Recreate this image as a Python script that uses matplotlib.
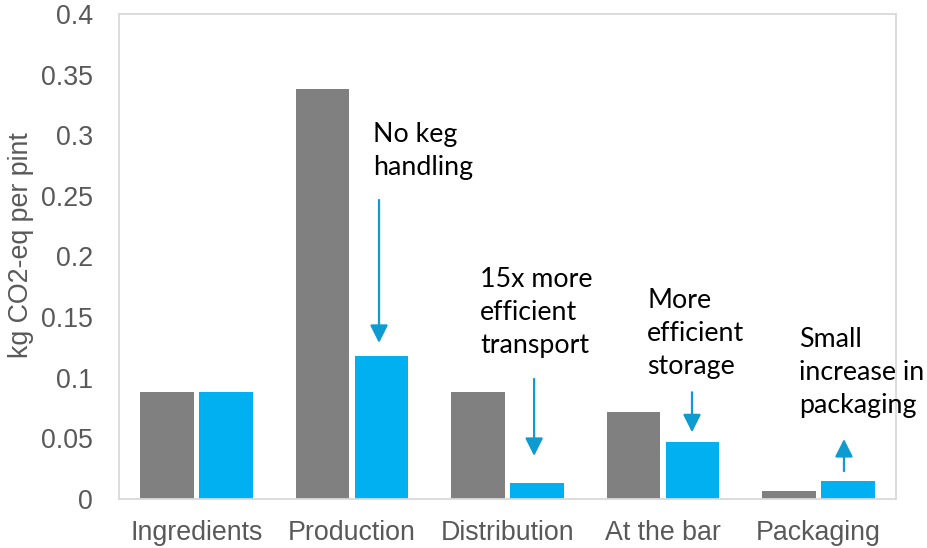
import matplotlib
matplotlib.use("Agg")
import matplotlib.pyplot as plt
import numpy as np

categories = ["Ingredients", "Production", "Distribution", "At the bar", "Packaging"]
keg_values = [0.088, 0.338, 0.088, 0.072, 0.007]
tank_values = [0.088, 0.118, 0.013, 0.047, 0.015]
y_ticks = [0, 0.05, 0.1, 0.15, 0.2, 0.25, 0.3, 0.35, 0.4]
y_tick_labels = ["0", "0.05", "0.1", "0.15", "0.2", "0.25", "0.3", "0.35", "0.4"]

notes = ["No keg\nhandling", "15x more\nefficient\ntransport",
         "More\nefficient\nstorage", "Small\nincrease in\npackaging"]
note_x = [1.134, 1.823, 2.898, 3.876]
note_y = [0.287, 0.1542, 0.1369, 0.1043]
arrow_x = [1.173, 2.171, 3.187, 4.165]
arrow_start = [0.2466, 0.099, 0.088, 0.023]
arrow_end = [0.1287, 0.0355, 0.055, 0.0495]

GRAY = "#808080"
BLUE = "#00B0F0"
ARROW = "#0E9BCF"
TICK = "#595959"

fig = plt.figure(figsize=(9.27, 5.48), dpi=100)
ax = fig.add_axes([0.1284, 0.0894, 0.9666 - 0.1284, 0.9745 - 0.0894])

x = np.arange(len(categories))
offset = 0.19
width = 0.345
ax.bar(x - offset, keg_values, width, color=GRAY, zorder=2)
ax.bar(x + offset, tank_values, width, color=BLUE, zorder=2)

ax.set_xlim(-0.5, len(categories) - 0.5)
ax.set_ylim(0, 0.4)
ax.set_yticks(y_ticks)
ax.set_yticklabels(y_tick_labels)
ax.set_xticks(x)
ax.set_xticklabels(categories)
ax.tick_params(axis="both", length=0, labelsize=19.3, colors=TICK,
               labelfontfamily="Liberation Sans")
ax.tick_params(axis="y", pad=19)
ax.tick_params(axis="x", pad=15)
ax.set_ylabel("kg CO2-eq per pint", fontsize=19.3, color=TICK,
              family="Liberation Sans")
ax.yaxis.set_label_coords(-0.110, 0.524)

for s in ax.spines.values():
    s.set_color("#D9D9D9")
    s.set_linewidth(1.3)

for txt, tx, ty in zip(notes, note_x, note_y):
    ax.text(tx, ty, txt, ha="left", va="center", fontsize=19.3, color="black",
            family="Lato", linespacing=1.4)

for ax_x, y0, y1 in zip(arrow_x, arrow_start, arrow_end):
    ax.annotate("", xy=(ax_x, y1), xytext=(ax_x, y0),
                arrowprops=dict(arrowstyle="-|>,head_length=0.6,head_width=0.3",
                                mutation_scale=18, color=ARROW, lw=1.6,
                                shrinkA=0, shrinkB=0), zorder=3)

fig.savefig("out.png", dpi=100)
